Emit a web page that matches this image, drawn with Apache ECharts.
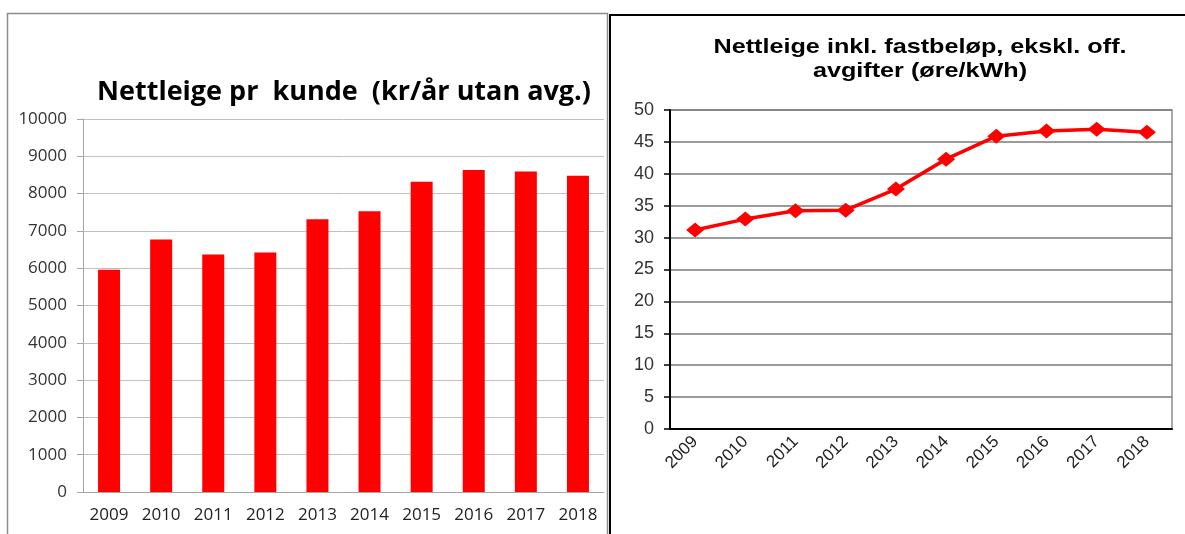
<!DOCTYPE html>
<html>
<head>
<meta charset="utf-8">
<script src="https://cdn.jsdelivr.net/npm/echarts@6/dist/echarts.min.js"></script>
<style>
  html, body { margin: 0; padding: 0; background: #fff; }
  #chart { width: 1185px; height: 534px; }
</style>
</head>
<body>
<div id="chart"></div>
<script>
// data
var years = ['2009', '2010', '2011', '2012', '2013', '2014', '2015', '2016', '2017', '2018'];
var kundeKr = [5960, 6770, 6370, 6420, 7310, 7530, 8320, 8630, 8590, 8480];
var oreKwh = [31.2, 32.9, 34.2, 34.3, 37.6, 42.3, 45.9, 46.7, 47.0, 46.5];

var leftTitle = 'Nettleige pr  kunde  (kr/år utan avg.)';
var rightTitle = 'Nettleige inkl. fastbeløp, ekskl. off.\navgifter (øre/kWh)';

var chart = echarts.init(document.getElementById('chart'));

var option = {
  animation: false,
  title: [
    {
      text: leftTitle,
      left: 339, top: 74, textAlign: 'center',
      textStyle: { fontFamily: 'Open Sans', fontWeight: 'bold', fontSize: 27, color: '#000' }
    }
  ],
  grid: [
    { left: 83, top: 119, width: 521, height: 373 },
    { left: 670, top: 110, width: 502, height: 319, show: true, borderColor: '#8c8c8c', borderWidth: 1.5 }
  ],
  xAxis: [
    {
      gridIndex: 0, type: 'category', data: years,
      axisLine: { lineStyle: { color: '#a6a6a6', width: 1 } },
      axisTick: { length: 6, lineStyle: { color: '#a6a6a6' } },
      axisLabel: { margin: 15, fontFamily: 'Open Sans', fontSize: 17, color: '#222' }
    },
    {
      gridIndex: 1, type: 'category', data: years,
      axisLine: { lineStyle: { color: '#000', width: 2 } },
      axisTick: { length: 5, lineStyle: { color: '#000', width: 1.5 } },
      axisLabel: { rotate: 45, margin: 10, fontFamily: 'Liberation Sans', fontSize: 17, color: '#222' }
    }
  ],
  yAxis: [
    {
      gridIndex: 0, type: 'value', min: 0, max: 10000, interval: 1000,
      axisLine: { show: true, lineStyle: { color: '#a6a6a6', width: 1 } },
      axisTick: { show: true, length: 6, lineStyle: { color: '#a6a6a6' } },
      splitLine: { lineStyle: { color: '#c0c0c0', width: 1 } },
      axisLabel: { margin: 16, fontFamily: 'Open Sans', fontSize: 17, color: '#333',
        formatter: function (v) { return String(v); } }
    },
    {
      gridIndex: 1, type: 'value', min: 0, max: 50, interval: 5,
      axisLine: { show: true, lineStyle: { color: '#000', width: 2 } },
      axisTick: { show: true, length: 6, lineStyle: { color: '#000', width: 1.5 } },
      splitLine: { lineStyle: { color: '#7a7a7a', width: 1.5 } },
      axisLabel: { margin: 16, fontFamily: 'Liberation Sans', fontSize: 18, color: '#333' }
    }
  ],
  series: [
    {
      type: 'bar', xAxisIndex: 0, yAxisIndex: 0, data: kundeKr,
      barWidth: 22, itemStyle: { color: '#ff0000' }
    },
    {
      type: 'line', xAxisIndex: 1, yAxisIndex: 1, data: oreKwh,
      symbol: 'diamond', symbolSize: [18, 15],
      lineStyle: { color: '#ff0000', width: 3.5 },
      itemStyle: { color: '#ff0000' }
    }
  ],
  graphic: [
    // left panel frame
    { type: 'polyline', shape: { points: [[7.5, 534], [7.5, 13.5], [607.5, 13.5], [607.5, 534]] },
      style: { stroke: '#8c8c8c', lineWidth: 1.5, fill: null }, silent: true },
    // right panel frame
    { type: 'polyline', shape: { points: [[610, 534], [610, 15], [1185, 15]] },
      style: { stroke: '#000', lineWidth: 2, fill: null }, silent: true },
    // right title, a bit stretched like the source picture
    { type: 'text', x: 920, y: 35, scaleX: 1.2, silent: true,
      style: { text: rightTitle, font: 'bold 21px "Liberation Sans"', align: 'center',
        lineHeight: 24, fill: '#000' } }
  ]
};

chart.setOption(option);
</script>
</body>
</html>
